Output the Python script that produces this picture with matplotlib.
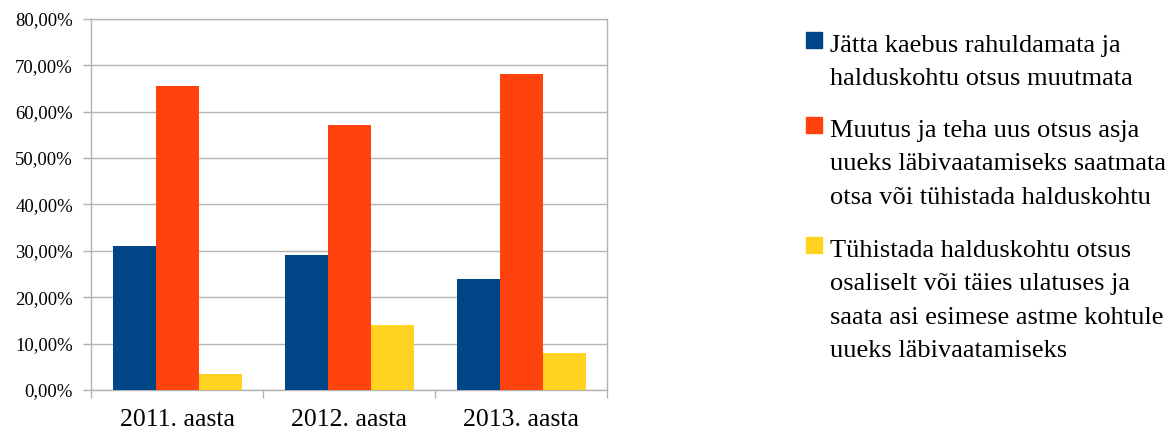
import numpy as np
import matplotlib.pyplot as plt
from matplotlib.patches import Rectangle
from matplotlib.ticker import FuncFormatter

plt.rcParams['font.family'] = ['Liberation Serif', 'DejaVu Serif']

# data
years = ["2011. aasta", "2012. aasta", "2013. aasta"]
jatta = [31.0, 29.1, 23.9]
muutus = [65.5, 57.1, 68.1]
tuhistada = [3.5, 14.0, 8.0]

labels = [
    ["Jätta kaebus rahuldamata ja", "halduskohtu otsus muutmata"],
    ["Muutus ja teha uus otsus asja", "uueks läbivaatamiseks saatmata",
     "otsa või tühistada halduskohtu"],
    ["Tühistada halduskohtu otsus", "osaliselt või täies ulatuses ja",
     "saata asi esimese astme kohtule", "uueks läbivaatamiseks"],
]
colors = ["#004586", "#ff420e", "#ffd320"]

W, H = 1173, 430
fig = plt.figure(figsize=(W / 100, H / 100), dpi=100)
ax = fig.add_axes([91 / W, 1 - 390 / H, (607 - 91) / W, (390 - 18.7) / H])

x = np.arange(len(years))
bw = 0.25
for i, (vals, c) in enumerate(zip([jatta, muutus, tuhistada], colors)):
    ax.bar(x + (i - 1) * bw, vals, width=bw, color=c, zorder=3)

ax.set_xlim(-0.5, 2.5)
ax.set_ylim(0, 80)
ax.set_yticks(np.arange(0, 81, 10))
ax.yaxis.set_major_formatter(FuncFormatter(lambda v, p: f"{v:.2f}%".replace(".", ",")))
ax.grid(axis="y", color="#b3b3b3", linewidth=1, zorder=0)

ax.set_xticks(x)
ax.set_xticklabels(years, fontsize=18.5)
ax.set_xticks(np.arange(-0.5, 2.6, 1), minor=True)
ax.tick_params(axis="x", which="major", length=0, pad=14)
ax.tick_params(axis="x", which="minor", length=6, width=1, color="#b3b3b3", direction="out")
ax.tick_params(axis="y", labelsize=13.5, length=6, width=1, color="#b3b3b3", pad=7)
for s in ax.spines.values():
    s.set_color("#b3b3b3")
    s.set_linewidth(1)

# legend drawn by hand: handle sits at the first line
def fx(px):
    return px / W

def fy(py):
    return 1 - py / H

starts = [51.7, 136.7, 256.7]
step = 33.5
for lines, c, y0 in zip(labels, colors, starts):
    fig.patches.append(Rectangle((fx(806), fy(y0 - 4)), 16 / W, 16 / H,
                                 transform=fig.transFigure, color=c))
    for k, line in enumerate(lines):
        fig.text(fx(830), fy(y0 + k * step), line, fontsize=19,
                 va="baseline", ha="left")

fig.savefig("out.png", dpi=100)
